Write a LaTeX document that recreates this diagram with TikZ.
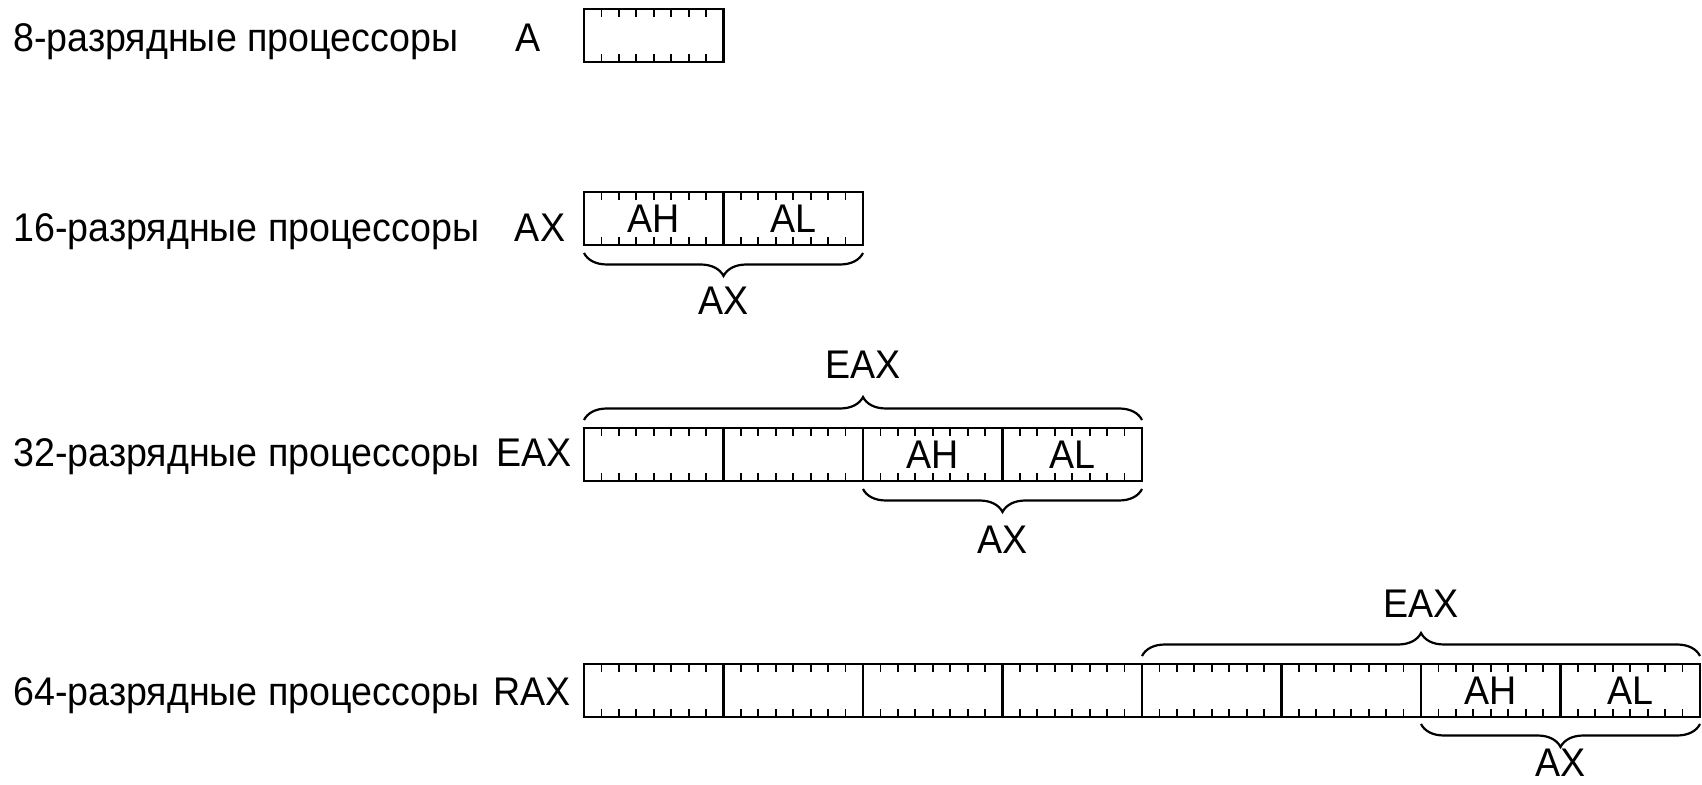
\documentclass[tikz,border=0pt]{standalone}
\usepackage{fontspec}
\setmainfont{Liberation Sans}[FakeStretch=0.94]
\usetikzlibrary{decorations.pathreplacing,calc}
\newcommand\rfont{\fontsize{20}{24}\selectfont}
\tikzset{
  bytebox/.style={draw, line width=1.2pt, minimum width=69.75pt, minimum height=26.5pt,
    inner sep=0pt, outer sep=0pt, anchor=north west, font=\rfont,
    path picture={
      \foreach \i in {1,...,7}{
        \draw[line width=0.9pt] ($(path picture bounding box.north west)!\i/8!(path picture bounding box.north east)$) -- ++(0,-4pt);
        \draw[line width=0.9pt] ($(path picture bounding box.south west)!\i/8!(path picture bounding box.south east)$) -- ++(0,4pt);
      }}},
  lbl/.style={inner sep=0pt, anchor=base west, font=\rfont},
  reg/.style={inner sep=0pt, anchor=base, font=\rfont},
  bracetop/.style={line width=1.1pt, decorate, decoration={brace, amplitude=11.5pt}},
  bracebot/.style={line width=1.1pt, decorate, decoration={brace, amplitude=11.5pt, mirror}},
  blabel/.style={inner sep=0pt, font=\rfont}
}
\begin{document}
\begin{tikzpicture}[x=0.5pt, y=-0.5pt]
\useasboundingbox (0,0) rectangle (1702,785);
% row 1
\node[lbl] (l1) at (13,52) {8-разрядные процессоры};
\node[reg] (n1) at (528,52) {A};
\node[bytebox] (r1b1) at (584,9) {};
% row 2
\node[lbl] (l2) at (13,242) {16-разрядные процессоры};
\node[reg] (n2) at (540,242) {AX};
\node[bytebox] (r2b1) at (584,192) {AH};
\node[bytebox] (r2b2) at (723.5,192) {AL};
\draw[bracebot] ([yshift=-4pt]r2b1.south west) -- ([yshift=-4pt]r2b2.south east)
  node[blabel, midway, below=16.5pt] (ax2) {AX};
% row 3
\node[lbl] (l3) at (13,467) {32-разрядные процессоры};
\node[reg] (n3) at (534,467) {EAX};
\foreach \k/\t in {1/,2/,3/AH,4/AL}{
  \node[bytebox] (r3b\k) at ({584+(\k-1)*139.5},428) {\t};
}
\draw[bracetop] ([yshift=4pt]r3b1.north west) -- ([yshift=4pt]r3b4.north east)
  node[blabel, midway, above=20pt] (eax3) {EAX};
\draw[bracebot] ([yshift=-4pt]r3b3.south west) -- ([yshift=-4pt]r3b4.south east)
  node[blabel, midway, below=18pt] (ax3) {AX};
% row 4
\node[lbl] (l4) at (13,705) {64-разрядные процессоры};
\node[reg] (n4) at (532,705) {RAX};
\foreach \k/\t in {1/,2/,3/,4/,5/,6/,7/AH,8/AL}{
  \node[bytebox] (r4b\k) at ({584+(\k-1)*139.5},664) {\t};
}
\draw[bracetop] ([yshift=4pt]r4b5.north west) -- ([yshift=4pt]r4b8.north east)
  node[blabel, midway, above=18.5pt] (eax4) {EAX};
\draw[bracebot] ([yshift=-3.5pt]r4b7.south west) -- ([yshift=-3.5pt]r4b8.south east)
  node[blabel, midway, below=12pt] (ax4) {AX};
\end{tikzpicture}
\end{document}
